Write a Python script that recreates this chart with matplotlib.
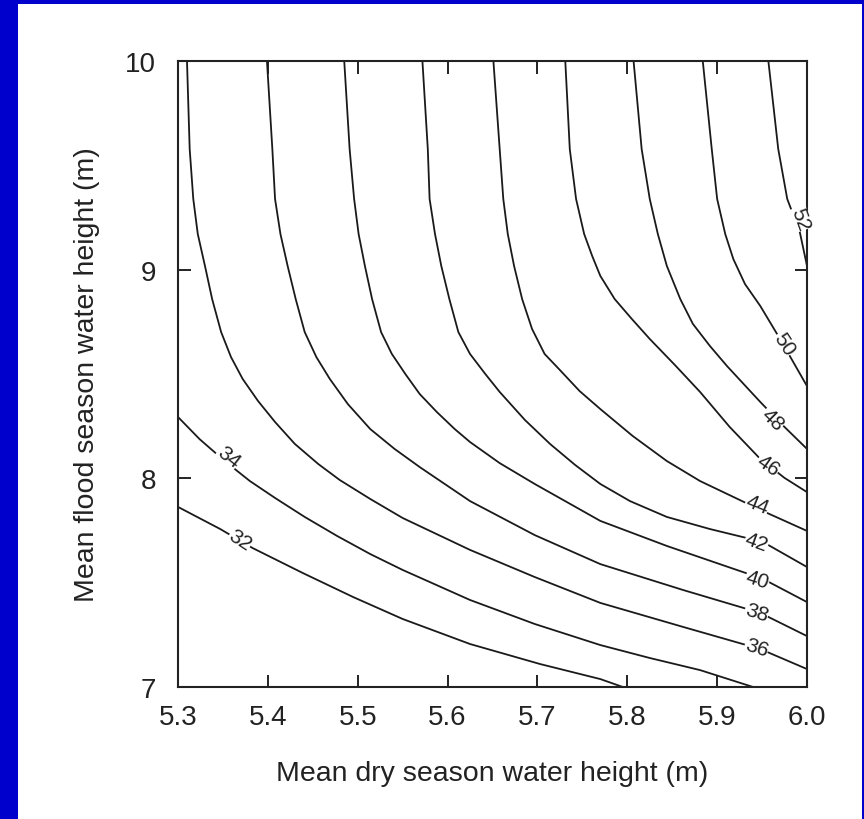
import matplotlib
matplotlib.use("Agg")
import matplotlib.pyplot as plt
from matplotlib.patches import Rectangle

#contour levels and the traced lines (x = dry season height, y = flood season height)
levels = [32, 34, 36, 38, 40, 42, 44, 46, 48, 50, 52]

c32_x = [5.300, 5.347, 5.383, 5.439, 5.495, 5.550, 5.625, 5.703, 5.770, 5.795]
c32_y = [7.863, 7.757, 7.666, 7.546, 7.431, 7.326, 7.206, 7.110, 7.038, 7.000]
c34_x = [5.300, 5.324, 5.352, 5.380, 5.408, 5.441, 5.477, 5.514, 5.550, 5.625, 5.697, 5.770, 5.825, 5.881, 5.940]
c34_y = [8.294, 8.188, 8.083, 7.987, 7.906, 7.815, 7.724, 7.637, 7.561, 7.417, 7.302, 7.201, 7.139, 7.081, 7.000]
c36_x = [5.310, 5.313, 5.317, 5.322, 5.330, 5.338, 5.348, 5.359, 5.372, 5.389, 5.408, 5.430, 5.456, 5.480, 5.514,
         5.550, 5.625, 5.697, 5.770, 5.862, 5.948, 6.000]
c36_y = [10.00, 9.578, 9.339, 9.171, 9.018, 8.859, 8.701, 8.581, 8.476, 8.371, 8.270, 8.165, 8.069, 7.992, 7.901,
         7.810, 7.657, 7.527, 7.403, 7.288, 7.182, 7.086]
c38_x = [5.399, 5.405, 5.408, 5.414, 5.422, 5.431, 5.441, 5.454, 5.469, 5.489, 5.514, 5.541, 5.569, 5.625, 5.697,
         5.770, 5.862, 5.948, 6.000]
c38_y = [10.00, 9.578, 9.339, 9.171, 9.018, 8.859, 8.701, 8.581, 8.476, 8.356, 8.236, 8.141, 8.054, 7.891, 7.728,
         7.589, 7.465, 7.355, 7.244]
c40_x = [5.485, 5.491, 5.496, 5.501, 5.508, 5.516, 5.526, 5.538, 5.553, 5.569, 5.588, 5.608, 5.625, 5.658, 5.697,
         5.770, 5.844, 5.951, 6.000]
c40_y = [10.00, 9.578, 9.339, 9.171, 9.018, 8.859, 8.701, 8.596, 8.500, 8.404, 8.318, 8.236, 8.174, 8.073, 7.973,
         7.796, 7.676, 7.518, 7.407]
c42_x = [5.572, 5.578, 5.580, 5.586, 5.593, 5.602, 5.612, 5.625, 5.642, 5.658, 5.686, 5.714, 5.742, 5.770, 5.803,
         5.844, 5.892, 5.951, 6.000]
c42_y = [10.00, 9.578, 9.339, 9.171, 9.018, 8.859, 8.701, 8.596, 8.500, 8.414, 8.280, 8.165, 8.064, 7.973, 7.891,
         7.815, 7.757, 7.695, 7.575]
c44_x = [5.651, 5.658, 5.662, 5.667, 5.674, 5.683, 5.694, 5.708, 5.725, 5.747, 5.770, 5.806, 5.844, 5.881, 5.918,
         5.951, 6.000]
c44_y = [10.00, 9.578, 9.339, 9.171, 9.018, 8.859, 8.716, 8.596, 8.519, 8.418, 8.332, 8.203, 8.083, 7.987, 7.911,
         7.843, 7.748]
c46_x = [5.731, 5.736, 5.743, 5.752, 5.761, 5.770, 5.786, 5.805, 5.825, 5.853, 5.881, 5.914, 5.948, 5.975, 6.000]
c46_y = [10.00, 9.578, 9.339, 9.171, 9.065, 8.970, 8.859, 8.764, 8.668, 8.543, 8.414, 8.246, 8.093, 8.002, 7.934]
c48_x = [5.807, 5.816, 5.825, 5.834, 5.844, 5.859, 5.873, 5.892, 5.911, 5.948, 5.975, 6.000]
c48_y = [10.00, 9.578, 9.339, 9.171, 9.018, 8.859, 8.740, 8.634, 8.538, 8.366, 8.246, 8.141]
c50_x = [5.884, 5.894, 5.900, 5.909, 5.918, 5.931, 5.948, 5.970, 6.000]
c50_y = [10.00, 9.578, 9.339, 9.171, 9.051, 8.931, 8.826, 8.668, 8.442]
c52_x = [5.957, 5.968, 5.978, 5.992, 6.000]
c52_y = [10.00, 9.578, 9.339, 9.180, 9.018]

lines_x = [c32_x, c34_x, c36_x, c38_x, c40_x, c42_x, c44_x, c46_x, c48_x, c50_x, c52_x]
lines_y = [c32_y, c34_y, c36_y, c38_y, c40_y, c42_y, c44_y, c46_y, c48_y, c50_y, c52_y]

#where each level label sits
label_x = [5.369, 5.356, 5.944, 5.944, 5.945, 5.944, 5.945, 5.957, 5.962, 5.975, 5.992]
label_y = [7.704, 8.102, 7.192, 7.359, 7.518, 7.695, 7.877, 8.064, 8.284, 8.644, 9.243]
label_rot = [-33, -38, -18, -18, -18, -20, -22, -35, -45, -57, -70]

xticks = [5.3, 5.4, 5.5, 5.6, 5.7, 5.8, 5.9, 6.0]
yticks = [7, 8, 9, 10]

plt.rcParams['font.family'] = ['Liberation Sans', 'DejaVu Sans']

fig = plt.figure(figsize=(8.64, 8.2), dpi=100)
fig.patch.set_facecolor('#0000CC')
#white page inside the blue frame, kept behind the axes
fig.patches.append(Rectangle((18/864, 0), 844/864, 815/820, transform=fig.transFigure,
                             facecolor='white', edgecolor='none', zorder=-5))

ax = fig.add_axes([178/864, 1-688/820, 629/864, 626/820])

for i in range(len(levels)):
    ax.plot(lines_x[i], lines_y[i], c='#1a1a1a', linewidth=1.3, zorder=2)
    ax.text(label_x[i], label_y[i], str(levels[i]), rotation=label_rot[i],
            ha='center', va='center', fontsize=15, color='#222222', zorder=3,
            rotation_mode='anchor',
            bbox=dict(facecolor='white', edgecolor='none', pad=0.3))

ax.set_xlim(5.3, 6.0)
ax.set_ylim(7, 10)
ax.set_xticks(xticks)
ax.set_xticklabels(['%.1f' % t for t in xticks])
ax.set_yticks(yticks)
ax.tick_params(direction='in', length=9, width=1.4, top=True, right=True,
               labelsize=20, colors='#222222')
ax.tick_params(axis='x', pad=12)
ax.tick_params(axis='y', pad=16)
for s in ax.spines.values():
    s.set_linewidth(1.5)
    s.set_color('#222222')

ax.set_xlabel('Mean dry season water height (m)', fontsize=20.5, labelpad=22, color='#222222')
ax.set_ylabel('Mean flood season water height (m)', fontsize=20.5, labelpad=18, color='#222222')

fig.savefig('out.png', dpi=100, facecolor=fig.get_facecolor())
